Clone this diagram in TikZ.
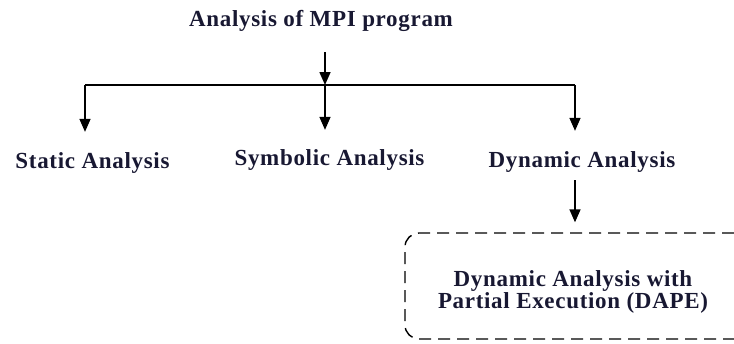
\documentclass[tikz,border=0pt]{standalone}
\usepackage{fontspec}
\setmainfont[LetterSpace=3]{Liberation Serif}
\usetikzlibrary{arrows.meta,fit}
\definecolor{labcol}{RGB}{24,24,50}
\begin{document}
\begin{tikzpicture}[x=1pt,y=1pt,
  lab/.style={font=\fontsize{23}{23}\selectfont\bfseries, text=labcol, inner sep=0pt, anchor=base},
  boxtext/.style={font=\fontsize{23}{22}\selectfont\bfseries, text=labcol, inner sep=0pt, align=center},
  dashbox/.style={draw, line width=1.4pt, dash pattern=on 12pt off 7pt, rounded corners=14pt, inner sep=0pt},
  conn/.style={line width=1.6pt},
  arr/.style={line width=1.6pt, -{Triangle[width=11pt,length=13pt]}}]
\useasboundingbox (0,0) rectangle (734,-343);
\node[lab] (title) at (321,-26) {Analysis of MPI program};
\coordinate (barL) at (85,-85);
\coordinate (barM) at (325,-85);
\coordinate (barR) at (575,-85);
\node[lab] (static) at (92.5,-168) {Static Analysis};
\node[lab] (symbolic) at (329.5,-165) {Symbolic Analysis};
\node[lab] (dynamic) at (582,-167) {Dynamic Analysis};
\node[boxtext] (dape) at (573,-292) {Dynamic Analysis with\\[0pt]Partial Execution (DAPE)};
\node[dashbox, fit={(dape) (405,-233) (748,-339)}] (dapebox) {};
\draw[arr, shorten <=21pt] (title.south -| barM) -- (barM);
\draw[conn] (barL) -- (barR);
\draw[arr, shorten >=20pt] (barL) -- (barL |- static.north);
\draw[arr, shorten >=19pt] (barM) -- (barM |- symbolic.north);
\draw[arr, shorten >=20pt] (barR) -- (barR |- dynamic.north);
\draw[arr, shorten <=8pt, shorten >=10pt] (barR |- dynamic.south) -- (barR |- dapebox.north);
\end{tikzpicture}
\end{document}
